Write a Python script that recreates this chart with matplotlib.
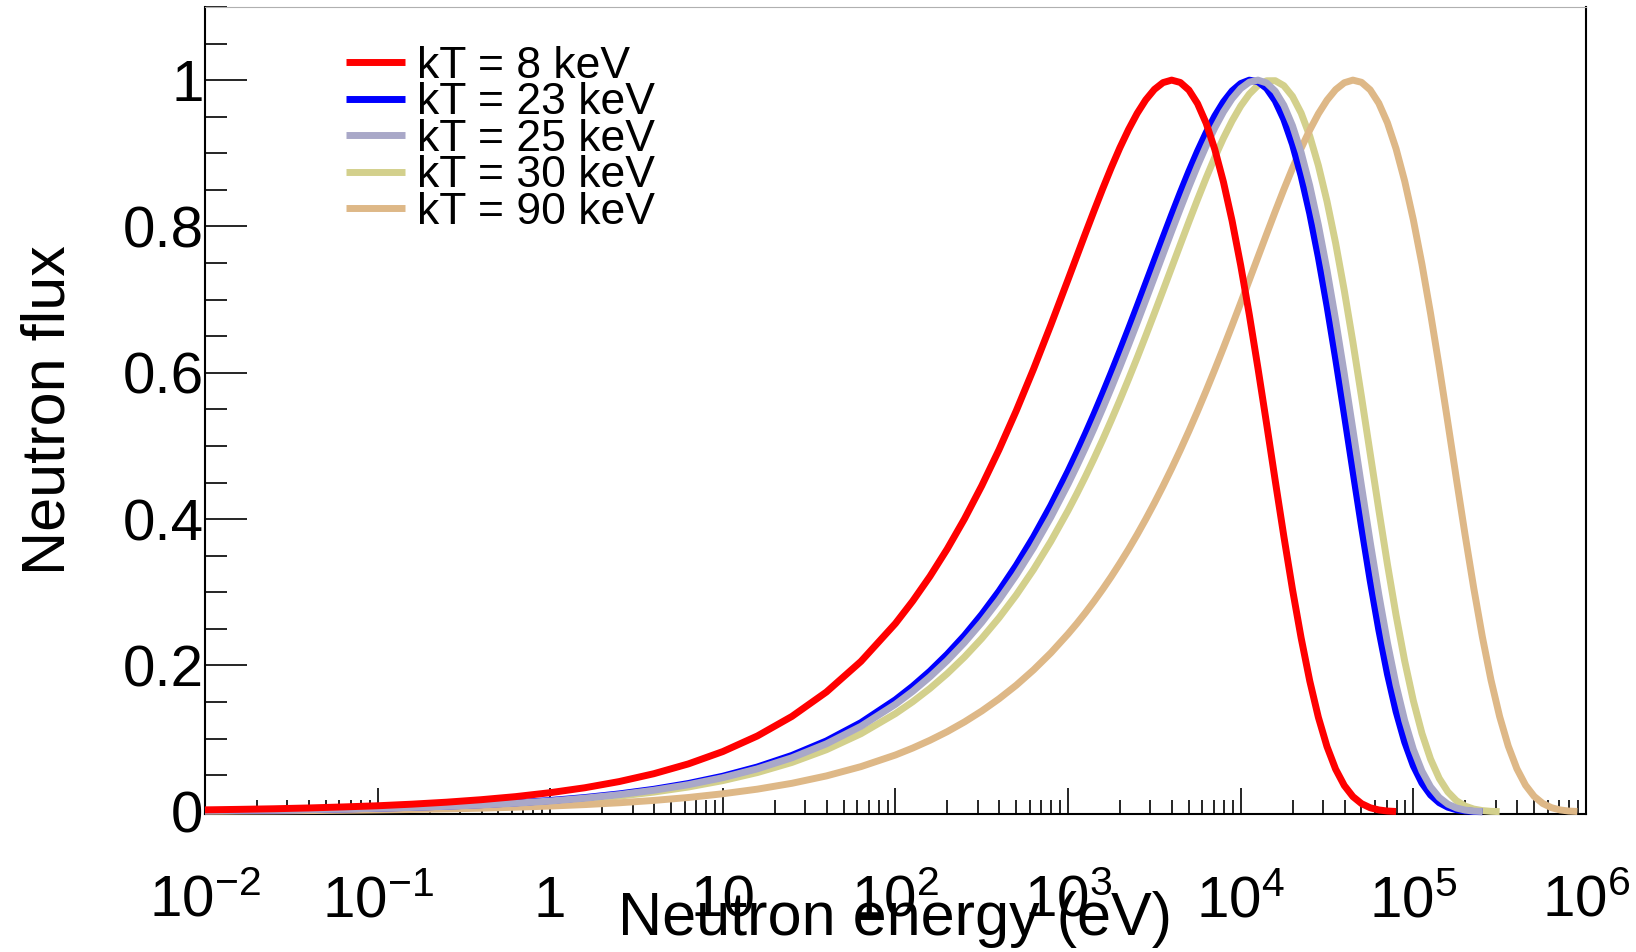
import matplotlib
matplotlib.use("Agg")
import matplotlib.pyplot as plt
from matplotlib.ticker import LogLocator, NullFormatter, MultipleLocator

plt.rcParams['font.family'] = ['Liberation Sans', 'DejaVu Sans']
plt.rcParams['mathtext.fontset'] = 'custom'
plt.rcParams['mathtext.rm'] = 'Liberation Sans'
plt.rcParams['mathtext.it'] = 'Liberation Sans:italic'
plt.rcParams['mathtext.default'] = 'regular'

# neutron energy grid (eV): coarse on the flat tail,
# finer where the curves bend
energy_ev = [0.01, 0.01585, 0.02512, 0.03981, 0.0631, 0.1, 0.1585, 0.2512, 0.3981, 0.631,
             1, 1.585, 2.512, 3.981, 6.31, 10, 15.85, 25.12, 39.81, 63.1,
             100, 125.9, 158.5, 199.5, 251.2, 316.2, 398.1, 501.2, 631.0, 794.3,
             1000, 1122, 1259, 1413, 1585, 1778, 1995, 2239, 2512, 2818,
             3162, 3548, 3981, 4467, 5012, 5623, 6310, 7079, 7943, 8913,
             1.000e4, 1.122e4, 1.259e4, 1.413e4, 1.585e4, 1.778e4, 1.995e4, 2.239e4, 2.512e4, 2.818e4,
             3.162e4, 3.548e4, 3.981e4, 4.467e4, 5.012e4, 5.623e4, 6.310e4, 7.079e4, 7.943e4, 8.913e4,
             1.000e5, 1.122e5, 1.259e5, 1.413e5, 1.585e5, 1.778e5, 1.995e5, 2.239e5, 2.512e5, 2.818e5,
             3.162e5, 3.548e5, 3.981e5, 4.467e5, 5.012e5, 5.623e5, 6.310e5, 7.079e5, 7.943e5, 8.913e5]

flux_8kev = [0.0026, 0.0033, 0.0041, 0.0052, 0.0066, 0.0082, 0.0104, 0.0131, 0.0165, 0.0207,
             0.0261, 0.0328, 0.0413, 0.0520, 0.0654, 0.0823, 0.1036, 0.1303, 0.1637, 0.2055,
             0.2574, 0.2880, 0.3218, 0.3592, 0.4004, 0.4456, 0.4949, 0.5482, 0.6052, 0.6653,
             0.7275, 0.7589, 0.7903, 0.8212, 0.8513, 0.8802, 0.9075, 0.9324, 0.9545, 0.9730,
             0.9873, 0.9966, 1.0000, 0.9968, 0.9864, 0.9679, 0.9410, 0.9053, 0.8608, 0.8078,
             0.7468, 0.6792, 0.6062, 0.5300, 0.4525, 0.3765, 0.3040, 0.2376, 0.1788, 0.1291,
             0.0890, 0.0582, 0.0359, 0.0207, 0.0111, 0.0055, 0.0025, 0.0010, 0.0004]

flux_23kev = [0.0015, 0.0019, 0.0024, 0.0031, 0.0039, 0.0049, 0.0061, 0.0077, 0.0097, 0.0122,
              0.0154, 0.0194, 0.0244, 0.0307, 0.0386, 0.0486, 0.0612, 0.0770, 0.0968, 0.1218,
              0.1531, 0.1716, 0.1922, 0.2153, 0.2410, 0.2697, 0.3015, 0.3368, 0.3757, 0.4186,
              0.4655, 0.4905, 0.5164, 0.5434, 0.5713, 0.6001, 0.6297, 0.6600, 0.6908, 0.7221,
              0.7535, 0.7849, 0.8159, 0.8462, 0.8753, 0.9028, 0.9282, 0.9509, 0.9701, 0.9852,
              0.9953, 0.9999, 0.9979, 0.9887, 0.9717, 0.9463, 0.9122, 0.8691, 0.8176, 0.7579,
              0.6914, 0.6192, 0.5434, 0.4660, 0.3895, 0.3162, 0.2486, 0.1884, 0.1371, 0.0953,
              0.0629, 0.0392, 0.0229, 0.0124, 0.0062, 0.0028, 0.0012, 0.0004, 0.0001]

flux_25kev = [0.0015, 0.0019, 0.0023, 0.0029, 0.0037, 0.0047, 0.0059, 0.0074, 0.0093, 0.0117,
              0.0147, 0.0186, 0.0234, 0.0294, 0.0370, 0.0466, 0.0587, 0.0738, 0.0929, 0.1168,
              0.1469, 0.1646, 0.1845, 0.2066, 0.2314, 0.2589, 0.2896, 0.3236, 0.3612, 0.4026,
              0.4480, 0.4723, 0.4975, 0.5238, 0.5510, 0.5792, 0.6082, 0.6380, 0.6684, 0.6994,
              0.7307, 0.7622, 0.7935, 0.8243, 0.8543, 0.8831, 0.9101, 0.9348, 0.9566, 0.9747,
              0.9885, 0.9972, 1.0000, 0.9961, 0.9849, 0.9656, 0.9377, 0.9011, 0.8557, 0.8019,
              0.7402, 0.6719, 0.5986, 0.5221, 0.4447, 0.3688, 0.2969, 0.2311, 0.1733, 0.1246,
              0.0854, 0.0555, 0.0340, 0.0195, 0.0104, 0.0051, 0.0023, 0.0009, 0.0003]

flux_30kev = [0.0013, 0.0017, 0.0021, 0.0027, 0.0034, 0.0043, 0.0054, 0.0067, 0.0085, 0.0107,
              0.0135, 0.0169, 0.0213, 0.0269, 0.0338, 0.0426, 0.0536, 0.0674, 0.0848, 0.1067,
              0.1342, 0.1504, 0.1686, 0.1889, 0.2116, 0.2369, 0.2651, 0.2964, 0.3311, 0.3695,
              0.4118, 0.4344, 0.4580, 0.4827, 0.5083, 0.5350, 0.5626, 0.5912, 0.6205, 0.6506,
              0.6813, 0.7124, 0.7438, 0.7752, 0.8064, 0.8369, 0.8665, 0.8946, 0.9207, 0.9442,
              0.9646, 0.9810, 0.9928, 0.9991, 0.9992, 0.9924, 0.9778, 0.9550, 0.9236, 0.8833,
              0.8343, 0.7771, 0.7125, 0.6419, 0.5669, 0.4898, 0.4128, 0.3383, 0.2687, 0.2060,
              0.1519, 0.1071, 0.0719, 0.0456, 0.0272, 0.0151, 0.0078, 0.0037, 0.0016, 0.0006,
              0.0002]

flux_90kev = [0.0008, 0.0010, 0.0012, 0.0016, 0.0020, 0.0025, 0.0031, 0.0039, 0.0049, 0.0062,
              0.0078, 0.0098, 0.0123, 0.0155, 0.0195, 0.0246, 0.0309, 0.0389, 0.0490, 0.0617,
              0.0776, 0.0871, 0.0977, 0.1095, 0.1228, 0.1377, 0.1544, 0.1730, 0.1939, 0.2171,
              0.2431, 0.2571, 0.2719, 0.2876, 0.3040, 0.3213, 0.3396, 0.3587, 0.3788, 0.3999,
              0.4220, 0.4451, 0.4692, 0.4943, 0.5204, 0.5475, 0.5756, 0.6045, 0.6342, 0.6646,
              0.6955, 0.7268, 0.7582, 0.7896, 0.8205, 0.8506, 0.8795, 0.9068, 0.9318, 0.9540,
              0.9726, 0.9870, 0.9964, 1.0000, 0.9970, 0.9867, 0.9684, 0.9417, 0.9062, 0.8619,
              0.8091, 0.7484, 0.6808, 0.6080, 0.5318, 0.4544, 0.3783, 0.3057, 0.2390, 0.1801,
              0.1302, 0.0898, 0.0588, 0.0363, 0.0210, 0.0113, 0.0056, 0.0025, 0.0010, 0.0004]

labels = ["kT = 8 keV", "kT = 23 keV", "kT = 25 keV", "kT = 30 keV", "kT = 90 keV"]
series = [flux_8kev, flux_23kev, flux_25kev, flux_30kev, flux_90kev]
colors = ["#ff0000", "#0000ff", "#a9a8c8", "#d3d08c", "#deb887"]
zorders = [7, 5, 6, 3, 4]

xtick_pos = [1e-2, 1e-1, 1, 10, 1e2, 1e3, 1e4, 1e5, 1e6]
xtick_labels = ["$10^{-2}$", "$10^{-1}$", "1", "10", "$10^{2}$", "$10^{3}$",
                "$10^{4}$", "$10^{5}$", "$10^{6}$"]
ytick_pos = [0, 0.2, 0.4, 0.6, 0.8, 1.0]
ytick_labels = ["0", "0.2", "0.4", "0.6", "0.8", "1"]

fig = plt.figure(figsize=(16.36, 9.52), dpi=100)
ax = fig.add_axes([0.1253, 0.1450, 0.8441, 0.8477])

handles = []
for vals, lab, col, z in zip(series, labels, colors, zorders):
    ln, = ax.plot(energy_ev[:len(vals)], vals, color=col, lw=5, label=lab,
                  zorder=z, clip_on=False, solid_capstyle='butt', solid_joinstyle='round')
    handles.append(ln)

ax.set_xscale('log')
ax.set_xlim(1e-2, 1e6)
ax.set_ylim(-0.003, 1.1)

ax.set_xticks(xtick_pos, xtick_labels)
ax.xaxis.set_minor_locator(LogLocator(base=10, subs=range(2, 10), numticks=20))
ax.xaxis.set_minor_formatter(NullFormatter())
ax.set_yticks(ytick_pos, ytick_labels)
ax.yaxis.set_minor_locator(MultipleLocator(0.05))

ax.tick_params(axis='x', which='major', direction='in', length=18.7, width=1.2,
               labelsize=42, pad=74, top=False)
ax.tick_params(axis='x', which='minor', direction='in', length=10, width=1.2, top=False)
ax.tick_params(axis='y', which='major', direction='in', length=30, width=1.2,
               labelsize=42, pad=1, right=False)
ax.tick_params(axis='y', which='minor', direction='in', length=15.6, width=1.2, right=False)
plt.setp(ax.get_xticklabels(), va='baseline')

for side in ['left', 'bottom', 'right']:
    ax.spines[side].set_linewidth(1.5)
    ax.spines[side].set_color('black')
ax.spines['top'].set_linewidth(0.8)
ax.spines['top'].set_color('#b0b0b0')

ax.set_xlabel("Neutron energy (eV)", fontsize=44)
ax.xaxis.set_label_coords(0.5, -0.096)
ax.set_ylabel("Neutron flux", fontsize=44)
ax.yaxis.set_label_coords(-0.092, 0.5)

ax.legend(handles, labels, loc='upper left', bbox_to_anchor=(346 / 1636, 1 - 46 / 952),
          bbox_transform=fig.transFigure, frameon=False, fontsize=32,
          handlelength=1.33, handletextpad=0.27, labelspacing=-0.104,
          borderpad=0, borderaxespad=0)

fig.savefig("out.png", dpi=100)
